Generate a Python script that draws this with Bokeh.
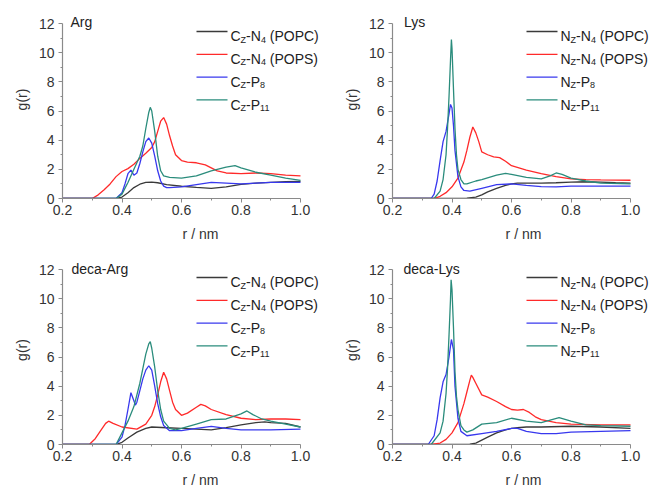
from bokeh.plotting import figure
from bokeh.layouts import column, row
from bokeh.models import Label, FixedTicker, PrintfTickFormatter
from bokeh.embed import file_html
from bokeh.resources import INLINE

FONT = "Liberation Sans"
COLORS = ["#3a3a3a", "#ff2a2a", "#3838ee", "#2a8c7c"]

# ---------------- data (r in nm, g(r)) ----------------
# Arg
arg_popc_r = [0.20, 0.38, 0.40, 0.42, 0.44, 0.46, 0.48, 0.50, 0.52, 0.55, 0.60, 0.65, 0.70, 0.75, 0.80, 0.85, 0.90, 0.95, 1.00]
arg_popc_g = [0, 0, 0.1, 0.4, 0.75, 0.98, 1.1, 1.12, 1.08, 0.95, 0.84, 0.76, 0.7, 0.8, 0.97, 1.05, 1.1, 1.15, 1.18]
arg_pops_r = [0.20, 0.30, 0.32, 0.34, 0.36, 0.38, 0.40, 0.42, 0.44, 0.46, 0.48, 0.50, 0.51, 0.52, 0.53, 0.54, 0.55, 0.56, 0.57, 0.58, 0.60, 0.62, 0.65, 0.68, 0.70, 0.72, 0.75, 0.80, 0.85, 0.90, 0.95, 1.00]
arg_pops_g = [0, 0, 0.25, 0.6, 1.0, 1.5, 1.85, 2.05, 2.35, 2.75, 3.1, 3.5, 3.9, 4.6, 5.3, 5.55, 5.1, 4.3, 3.6, 3.0, 2.6, 2.5, 2.45, 2.3, 2.1, 1.9, 1.75, 1.7, 1.75, 1.7, 1.6, 1.55]
arg_p8_r = [0.20, 0.38, 0.40, 0.41, 0.42, 0.43, 0.44, 0.45, 0.46, 0.47, 0.48, 0.49, 0.50, 0.51, 0.52, 0.53, 0.54, 0.55, 0.56, 0.60, 0.65, 0.70, 0.75, 0.80, 0.85, 0.90, 0.95, 1.00]
arg_p8_g = [0, 0, 0.4, 1.0, 1.7, 1.95, 1.6, 1.75, 2.4, 3.2, 3.9, 4.15, 3.8, 2.9, 1.9, 1.2, 0.85, 0.75, 0.75, 0.8, 0.95, 1.1, 1.05, 1.0, 1.05, 1.1, 1.1, 1.1]
arg_p11_r = [0.20, 0.38, 0.40, 0.42, 0.44, 0.46, 0.47, 0.48, 0.49, 0.495, 0.50, 0.51, 0.52, 0.53, 0.54, 0.56, 0.60, 0.65, 0.70, 0.75, 0.78, 0.80, 0.85, 0.90, 0.95, 1.00]
arg_p11_g = [0, 0, 0.3, 1.1, 2.0, 2.9, 3.6, 4.8, 5.9, 6.25, 6.0, 4.6, 2.9, 1.9, 1.55, 1.45, 1.4, 1.55, 1.9, 2.15, 2.25, 2.1, 1.8, 1.6, 1.4, 1.25]

# Lys
lys_popc_r = [0.20, 0.42, 0.45, 0.48, 0.50, 0.52, 0.55, 0.58, 0.60, 0.62, 0.65, 0.70, 0.75, 0.80, 0.85, 0.90, 0.95, 1.00]
lys_popc_g = [0, 0, 0.02, 0.1, 0.25, 0.45, 0.7, 0.9, 1.0, 1.05, 1.05, 1.05, 1.08, 1.12, 1.15, 1.12, 1.08, 1.05]
lys_pops_r = [0.20, 0.34, 0.36, 0.38, 0.40, 0.42, 0.44, 0.45, 0.46, 0.47, 0.48, 0.49, 0.50, 0.52, 0.54, 0.56, 0.58, 0.60, 0.65, 0.70, 0.75, 0.80, 0.85, 0.90, 1.00]
lys_pops_g = [0, 0, 0.15, 0.4, 0.8, 1.4, 2.5, 3.3, 4.2, 4.9, 4.5, 3.9, 3.2, 3.0, 2.85, 2.8, 2.55, 2.25, 1.95, 1.7, 1.5, 1.35, 1.3, 1.28, 1.25]
lys_p8_r = [0.20, 0.33, 0.34, 0.35, 0.36, 0.37, 0.38, 0.39, 0.395, 0.40, 0.405, 0.41, 0.42, 0.43, 0.44, 0.46, 0.50, 0.55, 0.60, 0.65, 0.70, 0.75, 0.80, 0.90, 1.00]
lys_p8_g = [0, 0, 0.3, 1.2, 2.6, 3.9, 4.6, 5.8, 6.45, 6.2, 5.0, 3.3, 1.5, 0.8, 0.55, 0.5, 0.7, 0.95, 1.0, 0.9, 0.82, 0.8, 0.85, 0.85, 0.85]
lys_p11_r = [0.20, 0.34, 0.36, 0.37, 0.38, 0.385, 0.39, 0.395, 0.398, 0.40, 0.405, 0.41, 0.415, 0.42, 0.43, 0.44, 0.45, 0.48, 0.50, 0.55, 0.58, 0.60, 0.65, 0.70, 0.73, 0.75, 0.77, 0.80, 0.85, 0.90, 1.00]
lys_p11_g = [0, 0, 0.5, 1.3, 3.0, 4.8, 7.0, 9.5, 10.9, 10.3, 7.5, 4.8, 3.0, 2.0, 1.3, 1.0, 1.0, 1.2, 1.3, 1.6, 1.72, 1.65, 1.45, 1.35, 1.55, 1.75, 1.65, 1.4, 1.2, 1.05, 1.0]

# deca-Arg
darg_popc_r = [0.20, 0.38, 0.40, 0.42, 0.45, 0.48, 0.50, 0.55, 0.60, 0.65, 0.70, 0.75, 0.80, 0.85, 0.88, 0.90, 0.95, 1.00]
darg_popc_g = [0, 0, 0.15, 0.45, 0.85, 1.1, 1.2, 1.15, 1.1, 1.05, 1.0, 1.15, 1.35, 1.5, 1.55, 1.5, 1.45, 1.2]
darg_pops_r = [0.20, 0.29, 0.31, 0.33, 0.345, 0.355, 0.37, 0.40, 0.45, 0.48, 0.50, 0.51, 0.52, 0.53, 0.54, 0.55, 0.56, 0.57, 0.58, 0.60, 0.62, 0.65, 0.665, 0.68, 0.70, 0.75, 0.80, 0.85, 0.90, 0.95, 1.00]
darg_pops_g = [0, 0, 0.4, 1.0, 1.45, 1.6, 1.45, 1.2, 1.05, 1.4, 2.0, 2.6, 3.4, 4.3, 4.95, 4.5, 3.7, 2.9, 2.4, 2.0, 2.15, 2.55, 2.75, 2.65, 2.4, 2.05, 1.8, 1.7, 1.75, 1.75, 1.7]
darg_p8_r = [0.20, 0.38, 0.40, 0.41, 0.42, 0.43, 0.44, 0.445, 0.45, 0.46, 0.47, 0.48, 0.49, 0.50, 0.51, 0.52, 0.53, 0.54, 0.56, 0.60, 0.65, 0.70, 0.75, 0.80, 0.90, 1.00]
darg_p8_g = [0, 0, 0.5, 1.3, 2.4, 3.55, 3.0, 2.7, 2.9, 3.7, 4.5, 5.1, 5.4, 5.1, 4.0, 2.8, 1.9, 1.3, 0.95, 0.95, 1.1, 1.25, 1.1, 1.0, 1.0, 1.05]
darg_p11_r = [0.20, 0.38, 0.40, 0.42, 0.44, 0.46, 0.47, 0.48, 0.49, 0.495, 0.50, 0.51, 0.52, 0.53, 0.54, 0.56, 0.58, 0.60, 0.65, 0.70, 0.75, 0.80, 0.82, 0.84, 0.87, 0.90, 0.95, 1.00]
darg_p11_g = [0, 0, 0.8, 1.6, 2.6, 4.2, 5.2, 6.2, 6.9, 7.05, 6.6, 5.3, 3.7, 2.4, 1.6, 1.1, 1.0, 1.1, 1.4, 1.7, 1.75, 2.1, 2.3, 2.05, 1.75, 1.6, 1.4, 1.2]

# deca-Lys
dlys_popc_r = [0.20, 0.43, 0.46, 0.48, 0.50, 0.52, 0.55, 0.58, 0.60, 0.62, 0.65, 0.70, 0.80, 0.90, 1.00]
dlys_popc_g = [0, 0, 0.02, 0.1, 0.3, 0.5, 0.8, 1.0, 1.1, 1.15, 1.2, 1.2, 1.25, 1.2, 1.1]
dlys_pops_r = [0.20, 0.33, 0.36, 0.38, 0.40, 0.42, 0.44, 0.45, 0.46, 0.465, 0.47, 0.48, 0.50, 0.52, 0.55, 0.58, 0.60, 0.62, 0.64, 0.66, 0.68, 0.70, 0.75, 0.80, 0.90, 1.00]
dlys_pops_g = [0, 0, 0.1, 0.35, 0.8, 1.5, 2.8, 3.6, 4.4, 4.75, 4.6, 4.2, 3.4, 3.25, 2.95, 2.6, 2.4, 2.35, 2.4, 2.2, 1.9, 1.7, 1.5, 1.4, 1.35, 1.35]
dlys_p8_r = [0.20, 0.32, 0.34, 0.35, 0.36, 0.37, 0.38, 0.39, 0.398, 0.405, 0.41, 0.42, 0.43, 0.45, 0.50, 0.55, 0.60, 0.62, 0.65, 0.70, 0.75, 0.80, 0.90, 1.00]
dlys_p8_g = [0, 0, 0.6, 1.7, 3.2, 4.3, 4.8, 6.0, 7.2, 6.5, 4.0, 1.8, 0.9, 0.6, 0.75, 0.9, 1.1, 1.1, 0.9, 0.75, 0.75, 0.85, 0.9, 0.95]
dlys_p11_r = [0.20, 0.33, 0.36, 0.37, 0.38, 0.385, 0.39, 0.395, 0.397, 0.40, 0.405, 0.41, 0.415, 0.42, 0.43, 0.44, 0.45, 0.47, 0.50, 0.55, 0.60, 0.65, 0.70, 0.76, 0.80, 0.85, 0.90, 1.00]
dlys_p11_g = [0, 0, 0.8, 1.6, 3.5, 5.2, 7.5, 10.0, 11.3, 10.6, 8.0, 5.0, 3.3, 2.4, 1.3, 1.0, 0.85, 1.0, 1.4, 1.5, 1.8, 1.6, 1.5, 1.85, 1.6, 1.35, 1.3, 1.25]

panel_titles = ["Arg", "Lys", "deca-Arg", "deca-Lys"]
panel_atoms = ["C", "N", "C", "N"]
x_ticks = [0.2, 0.4, 0.6, 0.8, 1.0]
x_minor = [0.3, 0.5, 0.7, 0.9]
y_ticks = [0, 2, 4, 6, 8, 10, 12]
y_minor = [1, 3, 5, 7, 9, 11]

panel_series = [
    [(arg_popc_r, arg_popc_g), (arg_pops_r, arg_pops_g), (arg_p8_r, arg_p8_g), (arg_p11_r, arg_p11_g)],
    [(lys_popc_r, lys_popc_g), (lys_pops_r, lys_pops_g), (lys_p8_r, lys_p8_g), (lys_p11_r, lys_p11_g)],
    [(darg_popc_r, darg_popc_g), (darg_pops_r, darg_pops_g), (darg_p8_r, darg_p8_g), (darg_p11_r, darg_p11_g)],
    [(dlys_popc_r, dlys_popc_g), (dlys_pops_r, dlys_pops_g), (dlys_p8_r, dlys_p8_g), (dlys_p11_r, dlys_p11_g)],
]

# ---------------- layout helpers ----------------
AX_W, AX_H = 238.0, 175.0          # pixel size of the 0.2..1.0 x 0..12 box
X0, X1, Y0, Y1 = 0.2, 1.0, 0.0, 12.0
CHAR_W = {'C': 722, 'N': 722, 'P': 667, 'Z': 611, 'O': 778, 'S': 667, '-': 333,
          ' ': 278, '(': 333, ')': 333}
MAIN_SIZE, SUB_SIZE = 14, 9


def tw(s, size):
    return sum(CHAR_W.get(ch, 556) for ch in s) * size / 1000.0


def legend_pieces(atom, k):
    if k == 0:
        return [(atom, 0), ("Z", 1), ("-N", 0), ("4", 1), (" (POPC)", 0)]
    if k == 1:
        return [(atom, 0), ("Z", 1), ("-N", 0), ("4", 1), (" (POPS)", 0)]
    if k == 2:
        return [(atom, 0), ("Z", 1), ("-P", 0), ("8", 1)]
    return [(atom, 0), ("Z", 1), ("-P", 0), ("11", 1)]


def px2x(dx):
    return X0 + dx * (X1 - X0) / AX_W


def px2y(dy):
    return Y1 - dy * (Y1 - Y0) / AX_H


def make_panel(i):
    col, rw = i % 2, i // 2
    bl = 62 if col == 0 else 54
    fw = 276 if col == 0 else 262          # frame extends to right edge
    above = 23 if rw == 0 else 14          # frame space above the y=12 line
    bb = 57 if rw == 0 else 51
    fh = int(AX_H) + above
    p = figure(width=bl + fw, height=fh + bb,
               x_range=(X0, px2x(fw)), y_range=(Y0, px2y(-above)),
               output_backend="svg", toolbar_location=None,
               min_border_left=bl, min_border_right=0,
               min_border_top=0, min_border_bottom=bb)
    p.outline_line_color = None
    p.xgrid.visible = False
    p.ygrid.visible = False
    p.background_fill_color = "white"
    p.border_fill_color = "white"

    for ax in (p.xaxis[0], p.yaxis[0]):
        ax.axis_line_color = "#8a8a8a"
        ax.axis_line_width = 1.2
        ax.major_tick_line_color = "#8a8a8a"
        ax.minor_tick_line_color = "#8a8a8a"
        ax.major_tick_out = 4
        ax.major_tick_in = 0
        ax.minor_tick_out = 2
        ax.minor_tick_in = 0
        ax.major_label_text_font = FONT
        ax.major_label_text_font_size = "14px"
        ax.major_label_text_color = "#333333"
        ax.axis_label_text_font = FONT
        ax.axis_label_text_font_size = "14px"
        ax.axis_label_text_font_style = "normal"
        ax.axis_label_text_color = "#333333"
    p.xaxis.major_label_standoff = 2
    p.xaxis.axis_label_standoff = 8
    p.yaxis.major_label_standoff = 4
    p.yaxis.axis_label_standoff = 6
    p.xaxis.bounds = (X0, X1)
    p.yaxis.bounds = (Y0, Y1)
    p.xaxis.ticker = FixedTicker(ticks=x_ticks, minor_ticks=x_minor)
    p.xaxis.formatter = PrintfTickFormatter(format="%.1f")
    p.yaxis.ticker = FixedTicker(ticks=y_ticks, minor_ticks=y_minor)
    p.xaxis.axis_label = "r / nm"
    p.yaxis.axis_label = "g(r)"

    for k, (rv, gv) in enumerate(panel_series[i]):
        p.line(rv, gv, line_color=COLORS[k], line_width=1.3)

    # panel title
    tdx = [8, 11.5, 9, 11][i]
    tdy = 2 if rw == 0 else 0.5
    p.add_layout(Label(x=X0, y=Y1, x_offset=tdx, y_offset=tdy, text=panel_titles[i],
                       text_font=FONT, text_font_size="14px", text_color="#222222",
                       text_baseline="alphabetic", text_align="left"))

    # legend
    for k in range(4):
        line_dy = 8 + 22.8 * k
        base_dy = 12.6 + 22.8 * k
        p.segment(x0=[px2x(134)], y0=[px2y(line_dy)], x1=[px2x(165)], y1=[px2y(line_dy)],
                  line_color=COLORS[k], line_width=1.3)
        cx = 168
        for txt, sub in legend_pieces(panel_atoms[i], k):
            size = SUB_SIZE if sub else MAIN_SIZE
            lead = len(txt) - len(txt.lstrip(" "))
            cx += tw(" " * lead, size)
            txt = txt.lstrip(" ")
            p.add_layout(Label(x=X0, y=Y1, x_offset=cx, y_offset=-base_dy - (3.5 if sub else 0),
                               text=txt, text_font=FONT, text_font_size=f"{size}px",
                               text_color="#222222", text_baseline="alphabetic",
                               text_align="left"))
            cx += tw(txt, size)
    return p


panels = [make_panel(i) for i in range(4)]
layout = column(row(panels[0], panels[1]), row(panels[2], panels[3]))

open("out.html", "w").write(file_html(layout, INLINE))
